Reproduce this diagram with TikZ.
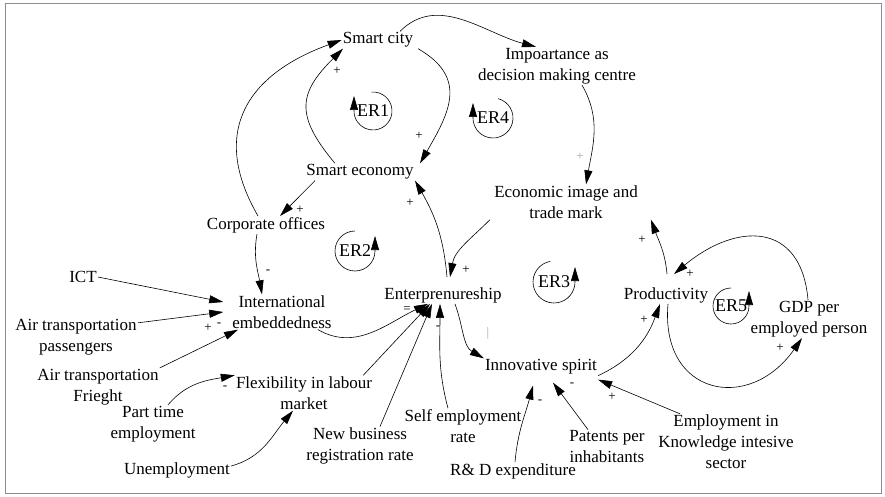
\documentclass[tikz,border=0pt]{standalone}
\usepackage{fontspec}
\setmainfont{Liberation Serif}
\usetikzlibrary{arrows.meta}

\begin{document}
\begin{tikzpicture}[x=1pt,y=1pt,
                    every node/.style={align=center,inner sep=1pt,font=\fontsize{17}{21}\selectfont},
                    arr/.style={draw,line width=.6pt,-{Triangle[length=14pt,width=8pt]}},
                    lbl/.style={font=\fontsize{13}{13}\selectfont},
                    faint/.style={lbl,text=black!35},
                    ername/.style={font=\fontsize{18}{18}\selectfont}]
  \useasboundingbox (0,0) rectangle (885,496);
  \draw[black!45,line width=1pt] (5,3) rectangle (881,492);
  % variables
  \node (city)  at (378,456) {Smart city};
  \node (imp)   at (557,430) {Impoartance as\\decision making centre};
  \node (econ)  at (360,324) {Smart economy};
  \node (corp)  at (266,271) {Corporate offices};
  \node (image) at (566,294) {Economic image and\\trade mark};
  \node (ict)   at (83,219)  {ICT};
  \node[inner xsep=9pt] (intl) at (282,184) {International\\embeddedness};
  \node (airp)  at (76,159)  {Air transportation\\passengers};
  \node (airf)  at (98,109)  {Air transportation\\Frieght};
  \node (part)  at (153,72)  {Part time\\employment};
  \node (flex)  at (304,103) {Flexibility in labour\\market};
  \node (unemp) at (177,26)  {Unemployment};
  \node (newb)  at (360,50)  {New business\\registration rate};
  \node (ent)   at (443,201) {Enterprenureship};
  \node (self)  at (463,70)  {Self employment\\rate};
  \node (innov) at (541,129) {Innovative spirit};
  \node (rd)    at (513,25)  {R\& D expenditure};
  \node (pat)   at (607,49)  {Patents per\\inhabitants};
  \node (know)  at (726,54)  {Employment in\\Knowledge intesive\\sector};
  \node (prod)  at (666,201) {Productivity};
  \node (gdp)   at (809,177) {GDP per\\employed person};
  % loops
  \node[ername] (er1) at (373,385) {ER1};
  \node[ername] (er4) at (493,378) {ER4};
  \node[ername] (er2) at (355,245) {ER2};
  \node[ername] (er3) at (554,214) {ER3};
  \node[ername] (er5) at (731,190) {ER5};
  \draw[arr] (er1.center) ++(95:19) arc[start angle=95,end angle=-180,radius=19] -- ++(0,15);
  \draw[arr] (er4.center) ++(75:20) arc[start angle=75,end angle=-180,radius=20] -- ++(0,15);
  \draw[arr] (er2.center) ++(90:20) arc[start angle=90,end angle=360,radius=20] -- ++(0,15);
  \draw[arr] (er3.center) ++(100:21) arc[start angle=100,end angle=360,radius=21] -- ++(0,15);
  \draw[arr] (er5.center) ++(90:18) arc[start angle=90,end angle=360,radius=18] -- ++(0,15);
  % links
  \draw[arr] ([xshift=-8pt]corp.north) to[out=120,in=200,looseness=1.3] (city.west);
  \draw[arr] ([xshift=-25pt]econ.north) to[out=130,in=225,looseness=1.4] ([xshift=-35pt]city.south);
  \draw[arr] ([xshift=40pt]city.south) to[out=-30,in=60,looseness=1.3] ([xshift=60pt]econ.north);
  \draw[arr] ([xshift=-45pt]econ.south) -- ([xshift=14pt]corp.north);
  \draw[arr] ([xshift=-9pt]corp.south) to[out=-100,in=100] ([xshift=-20pt]intl.north);
  \draw[arr] ([xshift=22pt]city.north) to[out=45,in=165] ([xshift=-21pt]imp.north);
  \draw[arr] ([xshift=25pt]imp.south) to[out=-60,in=80] ([xshift=20pt]image.north);
  \draw[arr] ([xshift=-76pt]image.south) to[out=225,in=80] ([shift={(7,9)}]ent.north);
  \draw[arr] ([shift={(4,9)}]ent.north) to[out=95,in=-60] ([xshift=55pt]econ.south);
  \draw[arr] ([xshift=36pt]intl.south) to[out=-30,in=205] ([xshift=-15pt]ent.south);
  \draw[arr] (ict.east) -- ([yshift=10pt]intl.west);
  \draw[arr] ([yshift=-5pt]airp.north east) -- (intl.west);
  \draw[arr] (airf.north east) -- ([xshift=-44pt]intl.south);
  \draw[arr] ([xshift=15pt]part.north) to[out=50,in=190] (flex.north west);
  \draw[arr] ([yshift=4pt]unemp.east) to[out=15,in=230] ([xshift=-11pt]flex.south);
  \draw[arr] ([xshift=-10pt]flex.north east) -- ([xshift=-13pt]ent.south);
  \draw[arr] ([xshift=20pt]newb.north) -- ([xshift=-11pt]ent.south);
  \draw[arr] ([xshift=-15pt]self.north) to[out=105,in=-90] ([xshift=-3pt]ent.south);
  \draw[arr] ([xshift=12pt]ent.south) to[out=-70,in=150] (innov.north west);
  \draw[arr] (innov.south east) to[out=25,in=-110] ([xshift=-6pt]prod.south);
  \draw[arr] ([xshift=2pt]prod.south) to[out=-95,in=-125,looseness=1.7] ([xshift=-7pt]gdp.south);
  \draw[arr] ([xshift=-1pt]gdp.north) to[out=95,in=40,looseness=1.5] ([shift={(8,12)}]prod.north);
  \draw[arr] ([shift={(1,12)}]prod.north) to[out=95,in=-70] ([xshift=12pt]image.south east);
  \draw[arr] ([xshift=2pt]rd.north) to[out=85,in=-105] ([shift={(-8,-10)}]innov.south);
  \draw[arr] ([xshift=-19pt]pat.north) -- ([shift={(12,-7)}]innov.south);
  \draw[arr] ([xshift=-46pt]know.north) -- ([yshift=-4pt]innov.south east);
  % polarities
  \node[lbl] (p1)  at (337,425) {+};
  \node[lbl] (p2)  at (419,360) {+};
  \node[lbl] (p3)  at (300,286) {+};
  \node[lbl] (p4)  at (268,224) {-};
  \node[faint] (p5) at (580,339) {+};
  \node[lbl] (p6)  at (466,226) {+};
  \node[lbl] (p7)  at (410,293) {+};
  \node[lbl] (p8)  at (407,186) {=};
  \node[lbl] (p9)  at (208,168) {+};
  \node[lbl] (p10) at (219,171) {-};
  \node[lbl] (p11) at (225,108) {-};
  \node[lbl] (p12) at (438,168) {-};
  \node[faint] (p13) at (488,163) {|};
  \node[lbl] (p14) at (644,176) {+};
  \node[lbl] (p15) at (780,148) {+};
  \node[lbl] (p16) at (690,222) {+};
  \node[lbl] (p17) at (642,256) {+};
  \node[lbl] (p18) at (540,94)  {-};
  \node[lbl] (p19) at (572,111) {-};
  \node[lbl] (p20) at (612,99)  {+};
\end{tikzpicture}
\end{document}
